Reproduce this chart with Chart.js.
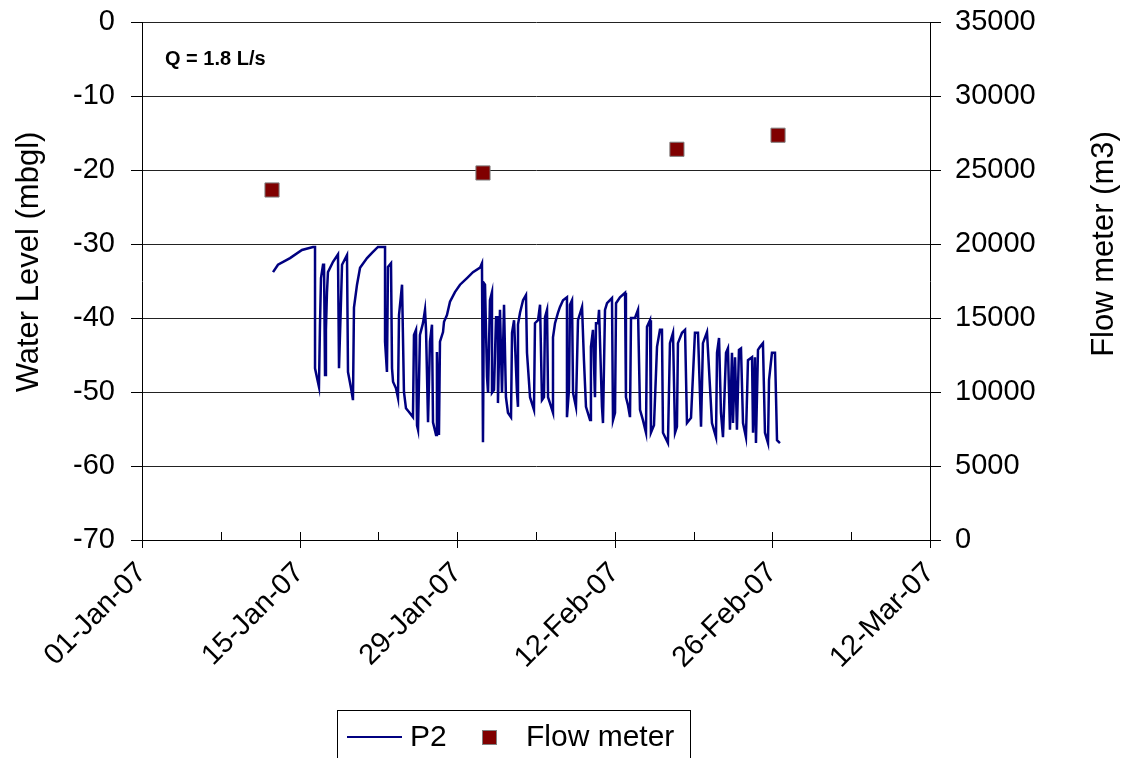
<!DOCTYPE html>
<html>
<head>
<meta charset="utf-8">
<script src="https://cdn.jsdelivr.net/npm/chart.js@4/dist/chart.umd.min.js"></script>
<style>
html,body{margin:0;padding:0;background:#fff;}
#wrap{width:1125px;height:758px;position:relative;}
</style>
</head>
<body>
<div id="wrap"><canvas id="c" width="1125" height="758"></canvas></div>
<script>
// Days since 01-Jan-07
const p2Days = [11.64,12.08,13.15,14.21,15.19,15.37,15.37,15.55,15.72,15.81,15.90,16.08,16.17,16.26,16.34,16.43,16.52,16.97,17.41,17.50,17.68,17.77,18.21,18.30,18.57,18.74,18.83,19.10,19.37,19.99,20.43,20.96,21.59,21.59,21.76,21.85,22.12,22.21,22.30,22.56,22.74,22.83,23.10,23.18,23.27,23.45,23.72,24.07,24.16,24.34,24.43,24.52,24.69,24.96,25.14,25.23,25.41,25.58,25.76,25.85,26.12,26.20,26.38,26.47,26.74,26.83,27.09,27.36,27.80,28.25,28.87,29.40,30.03,30.20,30.29,30.38,30.47,30.65,30.74,30.91,31.09,31.09,31.27,31.45,31.62,31.62,31.80,31.98,32.16,32.33,32.51,32.78,32.87,33.05,33.31,33.40,33.40,33.58,33.85,34.11,34.20,34.47,34.82,34.91,35.18,35.36,35.53,35.71,35.80,35.98,36.07,36.24,36.51,36.51,36.69,36.95,37.13,37.40,37.75,37.75,37.93,38.02,38.20,38.29,38.55,38.73,39.09,39.26,39.44,39.80,39.88,40.06,40.24,40.33,40.51,40.60,40.86,40.95,41.13,41.31,41.75,41.84,42.02,42.11,42.46,42.91,42.99,43.17,43.35,43.44,43.79,44.06,44.24,44.50,44.77,44.86,45.13,45.21,45.48,45.75,46.01,46.19,46.28,46.72,46.90,47.17,47.35,47.52,47.61,47.97,48.24,48.41,48.77,49.12,49.39,49.66,49.83,50.19,50.63,50.99,51.08,51.26,51.43,51.61,51.88,52.05,52.23,52.41,52.50,52.68,52.85,53.03,53.21,53.39,53.65,53.83,54.19,54.28,54.45,54.54,54.72,54.90,55.16,55.34,55.61,55.70,55.96,56.23,56.41,56.67];
const p2Level = [-33.8,-32.8,-31.9,-30.8,-30.4,-30.4,-46.8,-48.1,-49.3,-40.9,-34.6,-32.8,-32.8,-47.7,-41.6,-36.6,-33.8,-32.4,-31.4,-46.8,-37.6,-32.8,-31.5,-47.3,-49.5,-51.1,-38.6,-35.5,-33.2,-31.9,-31.2,-30.4,-30.4,-43.2,-47.3,-33.1,-32.6,-46.8,-48.6,-49.5,-50.8,-39.6,-35.5,-35.5,-50.0,-52.2,-52.7,-53.4,-42.3,-41.6,-54.5,-55.1,-42.3,-40.7,-38.9,-41.6,-54.1,-43.2,-40.9,-54.1,-55.8,-44.6,-55.8,-43.2,-41.9,-40.5,-39.6,-37.8,-36.5,-35.5,-34.6,-33.8,-33.2,-32.6,-56.8,-35.3,-35.5,-48.0,-50.1,-37.6,-36.5,-50.1,-49.7,-39.9,-39.9,-51.5,-38.9,-50.1,-38.2,-50.7,-52.8,-53.4,-42.0,-40.3,-50.1,-52.0,-40.9,-39.3,-37.6,-36.9,-44.7,-50.7,-52.4,-40.7,-40.3,-38.2,-51.1,-50.7,-39.9,-38.9,-50.7,-51.5,-52.8,-42.6,-40.7,-39.3,-38.5,-37.6,-37.2,-53.4,-49.7,-38.2,-37.6,-50.1,-52.0,-40.3,-38.5,-45.7,-52.0,-53.8,-43.9,-41.6,-50.7,-40.7,-40.7,-38.9,-52.0,-54.2,-38.9,-38.0,-37.3,-53.8,-52.8,-38.0,-37.2,-36.6,-50.7,-51.8,-53.4,-40.0,-40.0,-38.9,-52.4,-53.8,-55.5,-41.2,-40.3,-55.5,-54.5,-43.9,-41.6,-41.6,-55.5,-56.9,-43.4,-42.0,-55.5,-54.7,-43.4,-42.0,-41.6,-54.2,-53.5,-42.0,-42.0,-54.7,-43.4,-41.9,-54.2,-56.1,-44.7,-42.7,-52.8,-56.1,-44.7,-44.1,-55.1,-44.7,-54.2,-45.3,-55.1,-44.3,-44.1,-54.2,-56.1,-45.7,-45.3,-55.5,-45.3,-56.9,-44.3,-43.9,-43.4,-55.5,-56.9,-48.4,-44.7,-44.7,-56.5,-56.9];
const flowDays = [11.55, 30.29, 47.52, 56.50];
const flowValues = [23650, 24800, 26400, 27350];
const xTickDays = [0, 14, 28, 42, 56, 70];
const xTickLabels = ['01-Jan-07','15-Jan-07','29-Jan-07','12-Feb-07','26-Feb-07','12-Mar-07'];
const seriesNames = ['P2', 'Flow meter'];
const leftTitle = 'Water Level (mbgl)';
const rightTitle = 'Flow meter (m3)';
const noteText = 'Q = 1.8 L/s';

const FONT = "'Liberation Sans', Arial, sans-serif";
const NAVY = '#000080';
const MAROON = '#800000';

const p2Data = p2Days.map((d, i) => ({x: d, y: p2Level[i]}));
const flowData = flowDays.map((d, i) => ({x: d, y: flowValues[i]}));

const decorPlugin = {
  id: 'decor',
  afterDraw(chart) {
    const ctx = chart.ctx;
    const xs = chart.scales.x;
    const ca = chart.chartArea;
    ctx.save();
    ctx.strokeStyle = '#000';
    ctx.lineWidth = 1;
    for (let d = 7; d < 70; d += 14) {
      const px = Math.round(xs.getPixelForValue(d)) + 0.5;
      ctx.beginPath();
      ctx.moveTo(px, ca.bottom - 8);
      ctx.lineTo(px, ca.bottom);
      ctx.stroke();
    }
    for (const d of xTickDays) {
      const px = Math.round(xs.getPixelForValue(d)) + 0.5;
      ctx.beginPath();
      ctx.moveTo(px, ca.bottom - 8);
      ctx.lineTo(px, ca.bottom + 8);
      ctx.stroke();
    }
    // axis titles
    ctx.fillStyle = '#000';
    ctx.font = '31px ' + FONT;
    ctx.textAlign = 'center';
    ctx.textBaseline = 'middle';
    ctx.save();
    ctx.translate(29, 262);
    ctx.rotate(-Math.PI / 2);
    ctx.fillText(leftTitle, 0, 0);
    ctx.restore();
    ctx.save();
    ctx.translate(1104, 244);
    ctx.rotate(-Math.PI / 2);
    ctx.fillText(rightTitle, 0, 0);
    ctx.restore();
    // note
    ctx.font = 'bold 20px ' + FONT;
    ctx.textAlign = 'left';
    ctx.fillText(noteText, 165, 59);
    // legend
    const lx = 337, ly = 710, lw = 353, lh = 60;
    ctx.strokeStyle = '#000';
    ctx.lineWidth = 1;
    ctx.strokeRect(lx + 0.5, ly + 0.5, lw, lh);
    const cy = 737;
    ctx.strokeStyle = NAVY;
    ctx.lineWidth = 2;
    ctx.beginPath();
    ctx.moveTo(347, cy);
    ctx.lineTo(402, cy);
    ctx.stroke();
    ctx.font = '30px ' + FONT;
    ctx.fillStyle = '#000';
    ctx.textAlign = 'left';
    ctx.fillText(seriesNames[0], 410, cy + 1);
    ctx.fillStyle = MAROON;
    ctx.fillRect(483, 731, 13, 13);
    ctx.strokeStyle = '#808080';
    ctx.lineWidth = 1;
    ctx.strokeRect(482.5, 730.5, 14, 14);
    ctx.fillStyle = '#000';
    ctx.fillText(seriesNames[1], 526, cy + 1);
    ctx.restore();
  }
};

function noPad(scale) {
  scale.paddingTop = 0;
  scale.paddingBottom = 0;
}

new Chart(document.getElementById('c'), {
  type: 'scatter',
  data: {
    datasets: [
      {
        label: seriesNames[0],
        data: p2Data,
        showLine: true,
        borderColor: NAVY,
        backgroundColor: NAVY,
        borderWidth: 2.5,
        pointRadius: 0,
        tension: 0,
        yAxisID: 'y'
      },
      {
        label: seriesNames[1],
        data: flowData,
        showLine: false,
        pointStyle: 'rect',
        pointRadius: 10,
        backgroundColor: MAROON,
        borderColor: '#808080',
        borderWidth: 1,
        yAxisID: 'y1'
      }
    ]
  },
  options: {
    responsive: false,
    animation: false,
    layout: { padding: { top: 22, left: 0, right: 0, bottom: 0 } },
    plugins: { legend: { display: false }, tooltip: { enabled: false } },
    scales: {
      x: {
        type: 'linear',
        min: 0,
        max: 70,
        afterBuildTicks(scale) { scale.ticks = xTickDays.map(v => ({ value: v })); },
        afterFit(scale) { scale.height = 218; scale.paddingLeft = 0; scale.paddingRight = 0; },
        grid: { drawOnChartArea: false, drawTicks: false, tickLength: 8 },
        border: { display: true, color: '#000', width: 1 },
        ticks: {
          autoSkip: false,
          maxRotation: 45,
          minRotation: 45,
          padding: 16,
          color: '#000',
          font: { family: FONT, size: 29 },
          callback(v) { const i = xTickDays.indexOf(v); return i >= 0 ? xTickLabels[i] : ''; }
        }
      },
      y: {
        type: 'linear',
        position: 'left',
        min: -70,
        max: 0,
        afterFit(scale) { scale.width = 142; noPad(scale); },
        grid: { color: '#222', lineWidth: 1, tickLength: 11, drawTicks: true, tickColor: '#000' },
        border: { display: true, color: '#000', width: 1 },
        ticks: {
          stepSize: 10,
          padding: 16,
          color: '#000',
          font: { family: FONT, size: 29 }
        }
      },
      y1: {
        type: 'linear',
        position: 'right',
        min: 0,
        max: 35000,
        afterFit(scale) { scale.width = 195; noPad(scale); },
        grid: { drawOnChartArea: false, tickLength: 11, drawTicks: true, tickColor: '#000' },
        border: { display: true, color: '#000', width: 1 },
        ticks: {
          stepSize: 5000,
          padding: 14,
          color: '#000',
          font: { family: FONT, size: 29 },
          callback(v) { return String(v); }
        }
      }
    }
  },
  plugins: [decorPlugin]
});
</script>
</body>
</html>
